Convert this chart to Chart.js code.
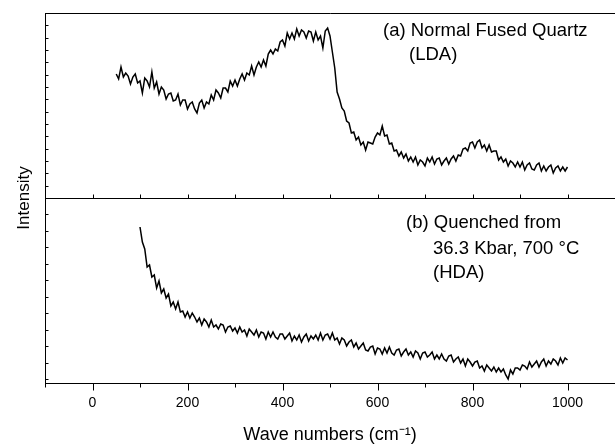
<!DOCTYPE html>
<html><head><meta charset="utf-8">
<script src="https://cdn.jsdelivr.net/npm/chart.js@4.4.1/dist/chart.umd.min.js"></script>
<style>html,body{margin:0;padding:0;background:#fff}#wrap{width:615px;height:447px;position:relative}</style>
</head><body><div id="wrap"><canvas id="c"></canvas></div>
<script>
// (a) Normal fused quartz (LDA): wave numbers 50..1000, step 5
const topStart = 50, topStep = 5;
const topIntensity = [
124,119,131,121,125,122,114,121,124,115,
117,105,120,117,111,126,110,116,104,111,
108,99,104,105,97,98,104,93,98,98,
89,94,96,89,85,95,98,90,96,94,
103,98,108,105,100,110,110,106,117,112,
118,112,119,124,118,125,123,132,123,131,
136,131,138,132,144,148,144,149,147,156,
158,152,165,159,165,159,169,162,168,166,
160,167,166,157,166,158,162,150,167,170,
162,146,130,106,99,90,87,77,75,65,
66,58,61,53,56,48,56,55,54,61,
65,63,72,62,63,54,55,47,48,42,
46,40,44,37,41,36,41,33,38,36,
32,40,36,41,34,39,40,33,37,40,
34,39,42,37,43,42,49,50,47,55,
56,50,56,58,50,53,47,53,46,47,
47,38,41,36,39,32,37,35,31,36,
31,36,28,33,35,29,28,33,35,27,
32,27,31,33,25,30,32,27,31,27,
31];
// (b) Quenched from 36.3 Kbar, 700 °C (HDA): wave numbers 100..1000, step 5
const botStart = 100, botStep = 5;
const botIntensity = [
156,141,134,116,118,106,108,95,102,90,
94,85,89,77,81,74,81,71,72,66,
71,65,70,66,61,65,58,64,61,56,
63,56,58,54,59,58,51,56,57,52,
55,50,56,51,53,47,54,51,48,53,
46,51,50,44,51,46,51,46,44,49,
49,44,47,50,42,47,43,48,41,46,
49,42,47,44,48,43,50,43,48,49,
44,50,43,45,39,45,43,37,41,43,
36,40,34,37,40,33,32,36,37,29,
35,34,29,35,30,36,30,28,33,34,
27,31,34,28,31,26,32,30,24,30,
31,26,28,31,24,28,24,29,24,22,
27,28,21,24,26,20,24,17,24,21,
17,21,22,15,17,12,18,15,12,16,
11,15,11,14,8,4,13,9,15,15,
13,18,17,14,21,16,19,22,16,21,
24,17,22,19,24,22,18,25,20,25,
23];
const xLabelValues = [0,200,400,600,800,1000];
const xTitle = 'Wave numbers (cm\u207B\u00B9)';
const yTitle = 'Intensity';
const topNote = ['(a) Normal Fused Quartz', '(LDA)'];
const botNote = ['(b) Quenched from', '36.3 Kbar, 700 \u00B0C', '(HDA)'];

const topData = topIntensity.map((v,i)=>({x: topStart + topStep*i, y: v}));
const botData = botIntensity.map((v,i)=>({x: botStart + botStep*i, y: v}));
const FONT = '"Liberation Sans", Arial, Helvetica, sans-serif';

const deco = {
  id: 'deco',
  afterDraw(chart){
    const {ctx, chartArea: a, scales} = chart;
    const x = scales.x, yT = scales.yTop, yB = scales.yBot;
    ctx.save();
    ctx.strokeStyle = '#000'; ctx.lineWidth = 1;
    const L = Math.round(a.left) + 0.5;
    const topY = Math.round(yT.getPixelForValue(yT.max)) + 0.5;
    const divY = Math.round(yT.getPixelForValue(yT.min)) + 0.5;
    const botY = Math.round(yB.getPixelForValue(yB.min)) + 0.5;
    ctx.beginPath();
    ctx.moveTo(L, topY); ctx.lineTo(a.right, topY);
    ctx.moveTo(L, divY); ctx.lineTo(a.right, divY);
    for (let v = x.min; v <= x.max; v += 100) {
      const px = Math.round(x.getPixelForValue(v)) + 0.5;
      const major = xLabelValues.includes(v);
      ctx.moveTo(px, botY); ctx.lineTo(px, botY + (major ? 7 : 4));
      ctx.moveTo(px, divY); ctx.lineTo(px, divY - 4);
    }
    for (let k = 0; k <= 15; k++) {
      const py = Math.round(yT.getPixelForValue(yT.max - k * (yT.max - yT.min) / 15)) + 0.5;
      ctx.moveTo(L, py); ctx.lineTo(L + 3, py);
    }
    for (let k = 0; k <= 11; k++) {
      const py = Math.round(yB.getPixelForValue(yB.max - k * 16.48)) + 0.5;
      ctx.moveTo(L, py); ctx.lineTo(L + 3, py);
    }
    ctx.stroke();
    ctx.fillStyle = '#000';
    ctx.font = '17px ' + FONT;
    ctx.textAlign = 'center'; ctx.textBaseline = 'middle';
    ctx.save();
    ctx.translate(24, (a.top + a.bottom) / 2);
    ctx.rotate(-Math.PI / 2);
    ctx.fillText(yTitle, 0, 0);
    ctx.restore();
    ctx.font = '18.5px ' + FONT;
    ctx.textAlign = 'left';
    ctx.fillText(topNote[0], 383, 31);
    ctx.fillText(topNote[1], 409, 55);
    ctx.fillText(botNote[0], 406, 223);
    ctx.fillText(botNote[1], 433, 249);
    ctx.fillText(botNote[2], 433, 273);
    ctx.restore();
  }
};

new Chart(document.getElementById('c'), {
  type: 'line',
  data: { datasets: [
    { data: topData, yAxisID: 'yTop', borderColor: '#000', borderWidth: 1.5, pointRadius: 0, tension: 0 },
    { data: botData, yAxisID: 'yBot', borderColor: '#000', borderWidth: 1.5, pointRadius: 0, tension: 0 }
  ]},
  options: {
    responsive: true, maintainAspectRatio: false, animation: false, devicePixelRatio: 1,
    layout: { padding: { top: 13, right: 0, left: 0, bottom: 0 } },
    plugins: { legend: { display: false }, tooltip: { enabled: false } },
    scales: {
      x: {
        type: 'linear', min: -100, max: 1100,
        grid: { display: false, drawTicks: false },
        border: { display: true, color: '#000', width: 1 },
        ticks: { stepSize: 100, autoSkip: false, maxRotation: 0, padding: 12, color: '#000',
          font: { size: 14, family: FONT },
          callback: v => xLabelValues.includes(v) ? String(v) : '' },
        title: { display: true, text: xTitle, color: '#000', font: { size: 18, family: FONT }, padding: { top: 0, bottom: 1 } },
        afterFit: s => { s.height = 64; s.paddingLeft = 0; s.paddingRight = 0; }
      },
      yBot: {
        type: 'linear', position: 'left', stack: 'p', stackWeight: 1, min: 0, max: 185,
        grid: { display: false, drawTicks: false },
        border: { display: true, color: '#000', width: 1 },
        ticks: { display: false },
        afterFit: s => { s.width = 45; }
      },
      yTop: {
        type: 'linear', position: 'left', stack: 'p', stackWeight: 1, min: 0, max: 185,
        grid: { display: false, drawTicks: false },
        border: { display: true, color: '#000', width: 1 },
        ticks: { display: false },
        afterFit: s => { s.width = 45; }
      }
    }
  },
  plugins: [deco]
});
</script>
</body></html>
